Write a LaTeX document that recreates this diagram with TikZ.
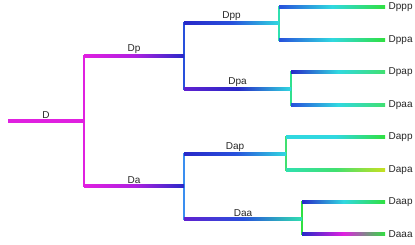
\documentclass[tikz,border=0pt]{standalone}
\usepackage{fontspec}
\setsansfont{Liberation Sans}
\usetikzlibrary{calc}

\definecolor{mag}{HTML}{E020E0}
\definecolor{purp}{HTML}{B020E0}
\definecolor{vio}{HTML}{6020D0}
\definecolor{blu}{HTML}{2828C8}
\definecolor{blum}{HTML}{2850DC}
\definecolor{sky}{HTML}{3A8EF0}
\definecolor{cyn}{HTML}{30D8E0}
\definecolor{teal}{HTML}{30E0B0}
\definecolor{grn}{HTML}{30E040}
\definecolor{lgrn}{HTML}{40E070}
\definecolor{ylw}{HTML}{C8E020}

% horizontal branch with a colour run, vertical stem in one colour
\newcommand{\branch}[5]{\shade[left color=#3,right color=#5,middle color=#4]
  ($(#1)+(0,-1.3)$) rectangle ($(#2)+(0,1.3)$);}
\newcommand{\stem}[3]{\fill[#3] ($(#1)+(-1.3,-1.3)$) rectangle ($(#2)+(1.3,1.3)$);}

\begin{document}
\begin{tikzpicture}[x=1pt,y=-1pt,
  lbl/.style={font=\sffamily\fontsize{10}{12}\selectfont,text=black!85,inner sep=2pt},
  leaf/.style={lbl,anchor=west,inner xsep=3.5pt}]
\useasboundingbox (0,0) rectangle (415,244);
% branch points
\coordinate (r) at (8,121);
\coordinate (b) at (84,121);
\coordinate (bp) at (184,56);
\coordinate (ba) at (184,186);
\coordinate (bpp) at (279,23);
\coordinate (bpa) at (291,89);
\coordinate (bap) at (286,154);
\coordinate (baa) at (302,219);
% leaves
\node[leaf] (Dppp) at (385,7) {Dppp};
\node[leaf] (Dppa) at (385,40) {Dppa};
\node[leaf] (Dpap) at (385,72) {Dpap};
\node[leaf] (Dpaa) at (385,105) {Dpaa};
\node[leaf] (Dapp) at (385,137) {Dapp};
\node[leaf] (Dapa) at (385,170) {Dapa};
\node[leaf] (Daap) at (385,202) {Daap};
\node[leaf] (Daaa) at (385,234) {Daaa};
% stems
\stem{b |- bp}{b |- ba}{mag}
\stem{bp |- bpp}{bp |- bpa}{blum}
\stem{ba |- bap}{ba |- baa}{sky}
\stem{bpp |- Dppp.west}{bpp |- Dppa.west}{teal}
\stem{bpa |- Dpap.west}{bpa |- Dpaa.west}{teal!70!grn}
\stem{bap |- Dapp.west}{bap |- Dapa.west}{lgrn}
\stem{baa |- Daap.west}{baa |- Daaa.west}{grn}
% branches
\branch{r}{b}{mag}{mag}{mag}
\branch{b |- bp}{bp}{mag}{purp}{blu}
\branch{b |- ba}{ba}{mag}{purp}{blu}
\branch{bp |- bpp}{bpp}{blu}{blum}{cyn}
\branch{bp |- bpa}{bpa}{vio}{blu}{cyn}
\branch{ba |- bap}{bap}{blu}{blum}{cyn}
\branch{ba |- baa}{baa}{vio}{blum}{teal}
\branch{bpp |- Dppp.west}{Dppp.west}{blum}{cyn}{grn}
\branch{bpp |- Dppa.west}{Dppa.west}{blum}{cyn}{grn}
\branch{bpa |- Dpap.west}{Dpap.west}{blu}{cyn}{lgrn}
\branch{bpa |- Dpaa.west}{Dpaa.west}{blum}{cyn}{lgrn}
\branch{bap |- Dapp.west}{Dapp.west}{cyn}{cyn}{grn}
\branch{bap |- Dapa.west}{Dapa.west}{teal}{lgrn}{ylw}
\branch{baa |- Daap.west}{Daap.west}{blu}{cyn}{grn}
\branch{baa |- Daaa.west}{Daaa.west}{blu}{mag}{grn}
% branch names
\node[lbl,above] (tD) at ($(r)!.5!(b)$) {D};
\node[lbl,above] (tDp) at ($(b |- bp)!.5!(bp)$) {Dp};
\node[lbl,above] (tDa) at ($(b |- ba)!.5!(ba)$) {Da};
\node[lbl,above] (tDpp) at ($(bp |- bpp)!.5!(bpp)$) {Dpp};
\node[lbl,above] (tDpa) at ($(bp |- bpa)!.5!(bpa)$) {Dpa};
\node[lbl,above] (tDap) at ($(ba |- bap)!.5!(bap)$) {Dap};
\node[lbl,above] (tDaa) at ($(ba |- baa)!.5!(baa)$) {Daa};
\end{tikzpicture}
\end{document}
